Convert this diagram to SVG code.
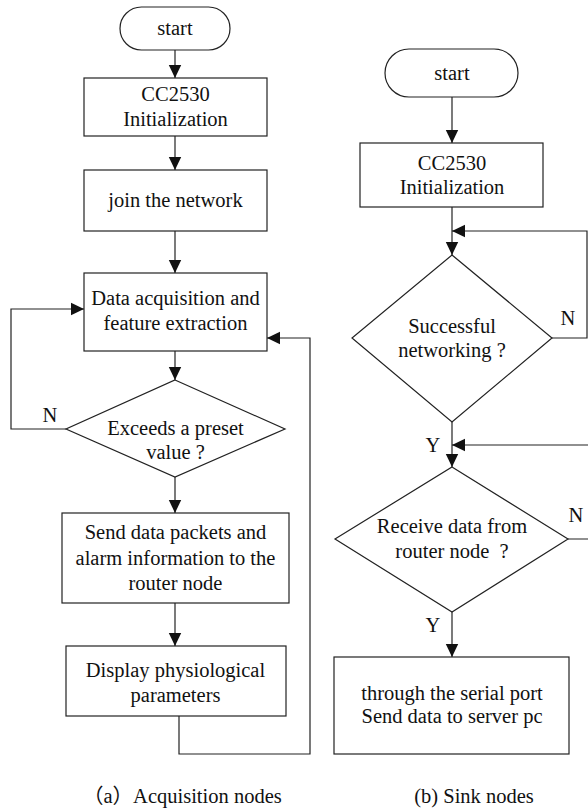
<svg xmlns="http://www.w3.org/2000/svg" width="588" height="808" viewBox="0 0 588 808">
<style>
.shape{fill:#fff;stroke:#222;stroke-width:1.2}
.line{fill:none;stroke:#222;stroke-width:1.2}
text{font-family:"Liberation Serif","Times New Roman","Noto Sans CJK SC",serif;font-size:20.5px;fill:#111;text-anchor:middle}
.st{text-anchor:start}
</style>
<defs>
<marker id="arr" markerUnits="userSpaceOnUse" markerWidth="14" markerHeight="14" viewBox="0 0 14 14" refX="13" refY="7" orient="auto">
<path d="M0,0.8 L13,7 L0,13.2 Z" fill="#111"/>
</marker>
</defs>
<rect width="588" height="808" fill="#fff"/>
<g id="connectors">
<path class="line" d="M175,50 V78" marker-end="url(#arr)"/>
<path class="line" d="M175,136 V170" marker-end="url(#arr)"/>
<path class="line" d="M175,231 V273" marker-end="url(#arr)"/>
<path class="line" d="M175,351 V380" marker-end="url(#arr)"/>
<path class="line" d="M175,477 V513" marker-end="url(#arr)"/>
<path class="line" d="M175,603 V646" marker-end="url(#arr)"/>
<path class="line" d="M66,429 H11 V309 H84" marker-end="url(#arr)"/>
<path class="line" d="M179,716 V754 H310 V338 H267" marker-end="url(#arr)"/>
<path class="line" d="M452,97 V143" marker-end="url(#arr)"/>
<path class="line" d="M452,207 V255" marker-end="url(#arr)"/>
<path class="line" d="M552,338 H587 V231 H452" marker-end="url(#arr)"/>
<path class="line" d="M452,422 V467" marker-end="url(#arr)"/>
<path class="line" d="M568,539 H596 V445 H452" marker-end="url(#arr)"/>
<path class="line" d="M452,612 V657" marker-end="url(#arr)"/>
</g>
<g id="a-start">
<rect class="shape" x="120" y="7" width="110" height="43" rx="21.5"/>
<text x="175" y="35">start</text>
</g>
<g id="a-init">
<rect class="shape" x="84" y="78" width="183" height="58"/>
<text x="175.5" y="101">CC2530</text>
<text x="175.5" y="126">Initialization</text>
</g>
<g id="a-join">
<rect class="shape" x="84" y="170" width="183" height="61"/>
<text x="175.5" y="207">join the network</text>
</g>
<g id="a-acq">
<rect class="shape" x="84" y="273" width="183" height="78"/>
<text x="175.5" y="305">Data acquisition and</text>
<text x="175.5" y="330">feature extraction</text>
</g>
<g id="a-exceeds">
<polygon class="shape" points="175,380 285,429 175,477 66,429"/>
<text x="175.5" y="435">Exceeds a preset</text>
<text x="175.5" y="459">value ?</text>
<text x="50" y="422">N</text>
</g>
<g id="a-send">
<rect class="shape" x="62" y="513" width="227" height="90"/>
<text x="175.5" y="539">Send data packets and</text>
<text x="175.5" y="565">alarm information to the</text>
<text x="175.5" y="590">router node</text>
</g>
<g id="a-display">
<rect class="shape" x="66" y="646" width="220" height="70"/>
<text x="175.5" y="677">Display physiological</text>
<text x="175.5" y="702">parameters</text>
</g>
<g id="b-start">
<rect class="shape" x="385" y="49" width="133" height="48" rx="24"/>
<text x="452" y="80">start</text>
</g>
<g id="b-init">
<rect class="shape" x="360" y="143" width="183" height="64"/>
<text x="452" y="170">CC2530</text>
<text x="452" y="194">Initialization</text>
</g>
<g id="b-network">
<polygon class="shape" points="452,255 552,338 452,422 352,338"/>
<text x="452" y="333">Successful</text>
<text x="452" y="357">networking ?</text>
<text x="568" y="325">N</text>
<text x="433" y="452">Y</text>
</g>
<g id="b-receive">
<polygon class="shape" points="452,467 568,539 452,612 335,539"/>
<text x="452" y="533">Receive data from</text>
<text x="452" y="558" style="white-space:pre">router node  ?</text>
<text x="576" y="522">N</text>
<text x="433" y="632">Y</text>
</g>
<g id="b-serial">
<rect class="shape" x="334" y="657" width="235" height="97"/>
<text x="452" y="700">through the serial port</text>
<text x="452" y="723">Send data to server pc</text>
</g>
<g id="captions">
<text class="st" x="83" y="803">（a）Acquisition nodes</text>
<text x="474" y="803">(b) Sink nodes</text>
</g>
</svg>
